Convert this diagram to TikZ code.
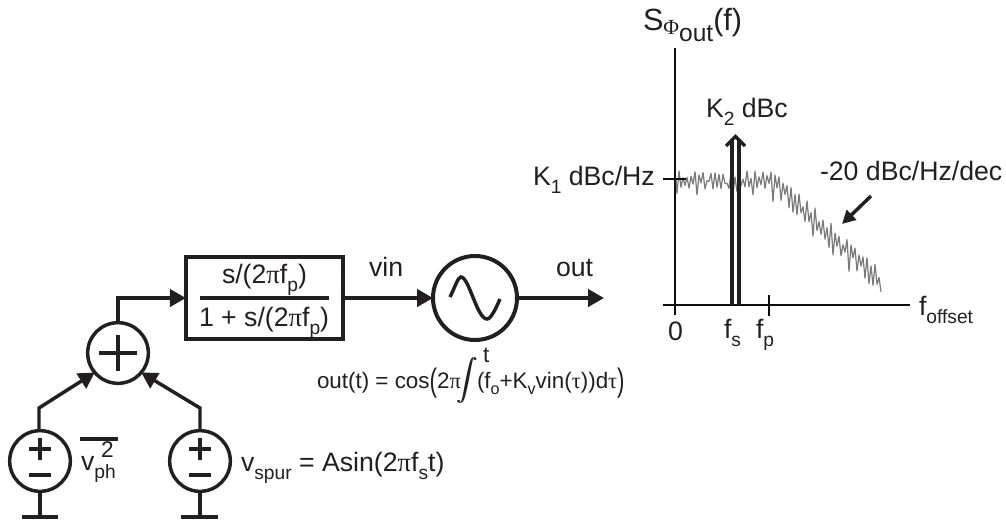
\documentclass[tikz,border=0pt]{standalone}
\usepackage{fontspec}
\setmainfont{Liberation Sans}
\newfontfamily\symf{Liberation Serif}
\usetikzlibrary{arrows.meta}
\newcommand{\dn}[1]{\raisebox{-0.3em}{\scalebox{0.72}{#1}}}
\newcommand{\pii}{{\symf π}}
\newcommand{\tauu}{{\symf τ}}
\newcommand{\bigp}[1]{\raisebox{-0.17em}{\scalebox{1}[1.45]{#1}}}
\definecolor{ink}{HTML}{231F20}
\tikzset{
  x=0.75pt,y=-0.75pt,
  txt/.style={anchor=base west,inner sep=0pt,outer sep=0pt,text=ink,font=\fontsize{20}{24}\selectfont},
  small/.style={txt,font=\fontsize{16.8}{20}\selectfont},
  wire/.style={draw=ink,line width=2.6pt,line join=miter},
  thin wire/.style={draw=black!95,line width=2.2pt},
  arr/.style={wire,-{Triangle[length=12pt,width=13pt]}},
  ring/.style={circle,draw=ink,line width=2.6pt,inner sep=0pt,outer sep=0pt},
  srcring/.style={ring,minimum size=45.5pt},
  oscring/.style={ring,line width=3pt,minimum size=63pt},
  noise/.style={draw=black!52,line width=0.9pt,line join=round},
  thickbox/.style={draw=ink,line width=3pt,inner sep=0pt,outer sep=0pt,minimum width=118pt,minimum height=62pt}
}
\begin{document}
\begin{tikzpicture}
\useasboundingbox (0,0) rectangle (1006,519);
% block diagram
\node[srcring] (sum) at (118,353) {};
\node[srcring] (src1) at (40,461) {};
\node[srcring] (src2) at (200,461) {};
\node[thickbox] (hp) at (264.5,298) {};
\node[oscring] (osc) at (475,298) {};
\coordinate (outend) at (604,298);
\coordinate (up) at (118,298);
\coordinate (b1) at (39,408);
\coordinate (b2) at (200,408);
\coordinate (g1) at (40,517);
\coordinate (g2) at (200,517);
\draw[arr] (sum.north) -- (up) -- (hp.west);
\draw[arr] (hp.east) -- (osc.west);
\draw[arr] (osc.east) -- (outend);
\draw[arr] (src1.north -| b1) -- (b1) -- (sum.220);
\draw[arr] (src2.north) -- (b2) -- (sum.320);
\draw[wire] (src1.south) -- (g1);
\draw[wire] (src2.south) -- (g2);
\draw[wire] (22,517) -- (58,517);
\draw[wire] (181,517) -- (218,517);
% plus/minus glyphs
\draw[wire] (99,353) -- (137,353) (118,335) -- (118,371);
\draw[wire] (29,449) -- (51,449) (40,438) -- (40,460) (29,475) -- (51,475);
\draw[wire] (189,449) -- (211,449) (200,438) -- (200,460) (189,475) -- (211,475);
% sine
\draw[wire] (450,297) .. controls (455,287) and (458,277) .. (461,277)
  .. controls (469,277) and (477,319) .. (487,319)
  .. controls (491,319) and (496,308) .. (500,299);
% fraction bar
\draw[wire] (200,298) -- (329,298);
\node[txt] (t1) at (222,283) {s/(2\pii f\dn{p})};
\node[txt] (t2) at (199,326) {1 + s/(2\pii f\dn{p})};
\node[txt] (vin) at (369,276) {vin};
\node[txt] (out) at (556,276) {out};
\draw[wire] (80,439) -- (118,439);
\node[txt] (vph) at (81,470) {v\dn{ph}};
\node[txt,font=\fontsize{17}{20}\selectfont] (two) at (101,457) {2};
\node[txt] (vs) at (241,471) {v\dn{spur} = Asin(2\pii f\dn{s}t)};
% formula
\node[small] (f1) at (317,388) {out(t) = cos\bigp{(}2\pii};
\node[small] (f3) at (477,388) {(f\dn{o}+K\dn{v}vin(\tauu))d\tauu\bigp{)}};
\node[small] (tt) at (483,362) {t};
\node[inner sep=0pt,anchor=center,text=ink] (intg) at (467,380) {\scalebox{1.55}{\rlap{$\displaystyle\int$}\kern0.35pt$\displaystyle\int$}};
% spectrum
\coordinate (yt) at (675,48);
\coordinate (yb) at (675,315);
\coordinate (xl) at (663,305);
\coordinate (xr) at (910,305);
\draw[thin wire] (yt) -- (yb);
\draw[thin wire] (xl) -- (xr);
\draw[noise] (676,178)
  \foreach \i [count=\k] in {677,679,...,882} {
    -- (\i,{(\i<772?180:180+(\i-772)*0.93)+(2*mod(\k,2)-1)*(\i<772?1+8*abs(sin(\k*137.5)):2+10*abs(sin(\k*137.5)))+(abs(sin(\k*71.3+20))>0.93?9*abs(sin(\k*53.1)):0)})
  };
\draw[thin wire] (769,295) -- (769,316);
\draw[thin wire] (663,179) -- (686,179);
\draw[wire] (732,305) -- (732,139);
\draw[wire] (739,305) -- (739,139);
\draw[wire,line cap=butt] (726,146) -- (735.5,136.5) -- (745,146);
\draw[wire,-{Triangle[length=10pt,width=10pt]}] (871,196) -- (842,224);
\node[txt,font=\fontsize{23}{26}\selectfont] (sy) at (643,30) {S\raisebox{-0.15em}{\scalebox{0.7}{\symf Φ}}\raisebox{-0.38em}{\scalebox{0.8}{out}}(f)};
\node[txt] (k2) at (706,117) {K\dn{2} dBc};
\node[txt] (slope) at (820,180) {-20 dBc/Hz/dec};
\node[txt] (k1) at (533,185) {K\dn{1} dBc/Hz};
\node[txt] (fo) at (919,315) {f\dn{offset}};
\node[txt] (z) at (668,340) {0};
\node[txt] (fs) at (724,338) {f\dn{s}};
\node[txt] (fp) at (756,338) {f\dn{p}};
\end{tikzpicture}
\end{document}
